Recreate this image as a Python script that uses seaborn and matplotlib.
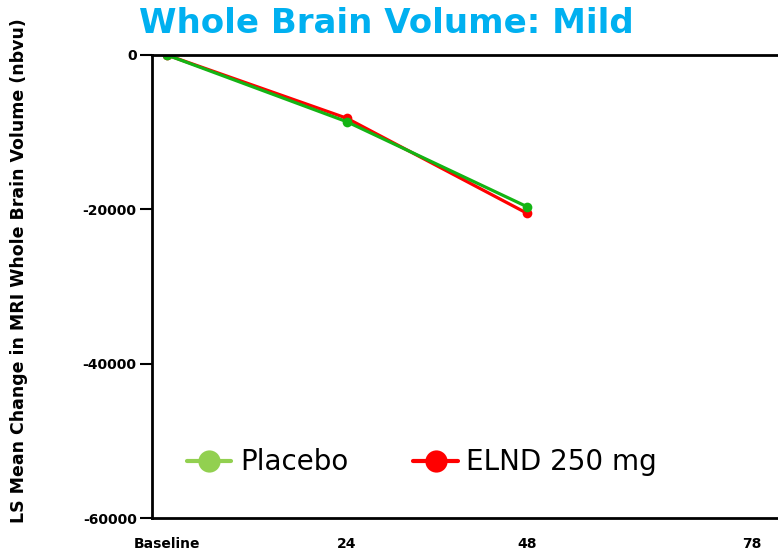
"""
Whole brain volume change over time (mild subgroup), LS mean per arm.
"""

import pandas as pd
import matplotlib.pyplot as plt
import seaborn as sns
from matplotlib.lines import Line2D

sns.set_theme(style="white")
plt.rcParams["font.family"] = ["DejaVu Sans"]

WEEKS = [0, 24, 48]
PLACEBO = [0, -8650, -19650]
ELND_250 = [0, -8200, -20500]
TICK_WEEKS = [0, 24, 48, 78]
TICK_LABELS = ["Baseline", "24", "48", "78"]
Y_TICKS = [0, -20000, -40000, -60000]

GREEN_LINE = "#14B414"
GREEN_LEGEND = "#92D050"
RED = "#FF0000"
TITLE_BLUE = "#00B0F0"


def build_frame() -> pd.DataFrame:
    rows = []
    for arm, vals in [("ELND 250 mg", ELND_250), ("Placebo", PLACEBO)]:
        for w, v in zip(WEEKS, vals):
            rows.append({"week": w, "change": v, "arm": arm})
    return pd.DataFrame(rows)


def main():
    df = build_frame()

    fig = plt.figure(figsize=(7.78, 5.55), dpi=100)
    ax = fig.add_axes([152 / 778, 37 / 555, 1 - 152 / 778, 463 / 555])

    sns.lineplot(
        data=df, x="week", y="change", hue="arm",
        palette={"ELND 250 mg": RED, "Placebo": GREEN_LINE},
        hue_order=["ELND 250 mg", "Placebo"],
        marker="o", markersize=7, markeredgewidth=0, linewidth=2.3,
        legend=False, ax=ax,
    )

    ax.set_xlim(-2, 81.5)
    ax.set_ylim(-60000, 0)
    ax.set_xticks(TICK_WEEKS)
    ax.set_xticklabels(TICK_LABELS)
    ax.set_yticks(Y_TICKS)
    ax.set_yticklabels([str(t) for t in Y_TICKS])
    ax.tick_params(axis="y", direction="out", length=9, width=1.5,
                   color="black", labelcolor="black", labelsize=10, pad=2,
                   left=True)
    ax.tick_params(axis="x", length=0, labelsize=10, pad=14,
                   labelcolor="black")
    for lab in ax.get_xticklabels() + ax.get_yticklabels():
        lab.set_fontweight("bold")

    for side in ["left", "bottom", "top"]:
        ax.spines[side].set_color("black")
        ax.spines[side].set_linewidth(2)
    ax.spines["right"].set_visible(False)

    ax.set_xlabel("")
    ax.set_ylabel("")
    fig.text(0.024, 0.513, "LS Mean Change in MRI Whole Brain Volume (nbvu)",
             rotation=90, ha="center", va="center",
             fontsize=12.5, fontweight="bold", color="black")

    fig.text(0.497, 0.958, "Whole Brain Volume: Mild", ha="center",
             va="center", fontsize=24.5, fontweight="bold", color=TITLE_BLUE)

    handles = [
        Line2D([0], [0], color=GREEN_LEGEND, marker="o", markersize=16,
               markeredgewidth=0, linewidth=3),
        Line2D([0], [0], color=RED, marker="o", markersize=16,
               markeredgewidth=0, linewidth=3),
    ]
    ax.legend(handles, ["Placebo", "ELND 250 mg"], ncol=2, frameon=False,
              loc="center left", bbox_to_anchor=(0.016, 0.12),
              fontsize=20, handlelength=1.6, handletextpad=0.3,
              columnspacing=2.35, labelcolor="black")

    fig.savefig("out.png", dpi=100)


if __name__ == "__main__":
    main()
